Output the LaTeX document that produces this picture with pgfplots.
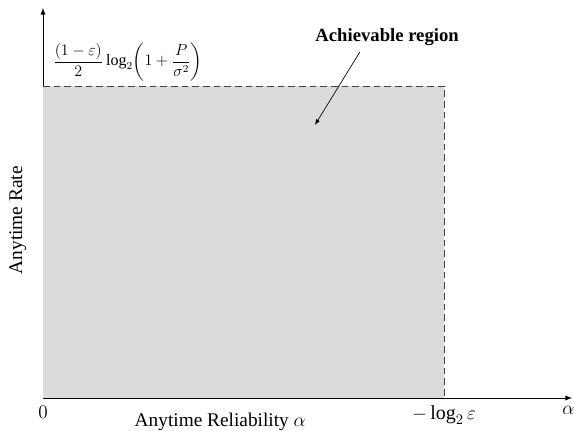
\documentclass[border=0pt]{standalone}
\usepackage{amsmath}
\usepackage{pgfplots}
\pgfplotsset{compat=1.18}
\usepackage{fontspec}
\setmainfont{Liberation Serif}
\begin{document}
\begin{tikzpicture}
\begin{axis}[
  scale only axis,
  width=396.75pt, height=292.5pt,
  xmin=0, xmax=1.319, ymin=0, ymax=1.25,
  axis lines=left,
  axis line style={-latex, line width=0.7pt},
  xtick={0,1,1.31}, xticklabels={$0$, $-\log_2\varepsilon$, $\alpha$},
  ytick=\empty,
  major tick length=0pt,
  xticklabel style={font=\fontsize{15}{17}\selectfont, yshift=-2.5pt},
  xlabel={Anytime Reliability $\alpha$},
  ylabel={Anytime Rate},
  xlabel style={font=\fontsize{14.5}{16}\selectfont, at={(axis description cs:0.335,0)}, anchor=north, yshift=-8pt},
  ylabel style={font=\fontsize{14.5}{16}\selectfont, at={(axis description cs:0,0.456)}, anchor=south, yshift=9pt},
  clip=false,
]
\addplot[fill=black!14, draw=none] coordinates {(0,0) (0,1) (1,1) (1,0)} -- cycle;
\addplot[line width=0.6pt, black!75, dash pattern=on 5pt off 3pt] coordinates {(0,1) (1,1) (1,0)};
\node[anchor=south west, inner sep=0pt, font=\fontsize{12}{14}\selectfont] at (axis cs:0.025,1.015)
  {$\dfrac{(1-\varepsilon)}{2}\log_2\!\left(1+\dfrac{P}{\sigma^2}\right)$};
\node[font=\bfseries\fontsize{14}{16}\selectfont] at (axis cs:0.858,1.157) {Achievable region};
\draw[-latex, line width=0.5pt] (axis cs:0.79,1.109) -- (axis cs:0.678,0.875);
\end{axis}
\pgfresetboundingbox
\path (-32.25pt,-24.75pt) rectangle (398.25pt,298.5pt);
\end{tikzpicture}
\end{document}
